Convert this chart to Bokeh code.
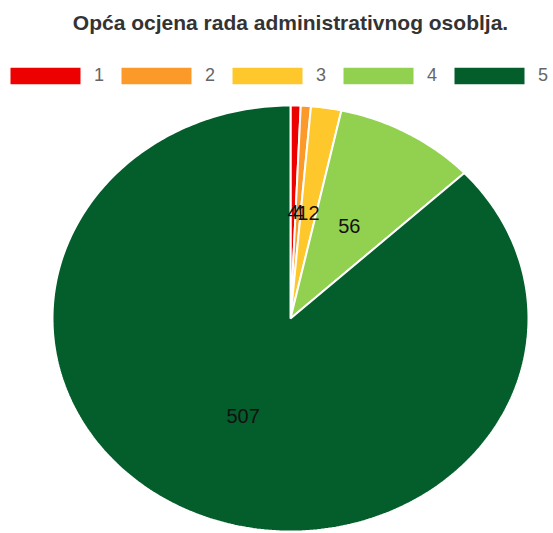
import numpy as np
from bokeh.plotting import figure
from bokeh.models import ColumnDataSource, Legend, LegendItem, Label
from bokeh.core.properties import value
from bokeh.embed import file_html
from bokeh.resources import INLINE

title_text = "Opća ocjena rada administrativnog osoblja."
categories = ["1", "2", "3", "4", "5"]
counts = [4, 4, 12, 56, 507]
colors = ["#ec0000", "#fb9a29", "#fec82c", "#92d050", "#035e2b"]

total = float(sum(counts))
cum = np.concatenate([[0.0], np.cumsum(counts)]) / total

xs, ys, lx, ly = [], [], [], []
for i in range(len(counts)):
    a0, a1 = cum[i], cum[i + 1]
    n = max(4, int((a1 - a0) * 400))
    t = np.pi / 2 - 2 * np.pi * np.linspace(a0, a1, n)
    xs.append(np.concatenate([[0.0], np.cos(t)]).tolist())
    ys.append(np.concatenate([[0.0], np.sin(t)]).tolist())
    tm = np.pi / 2 - 2 * np.pi * (a0 + a1) / 2
    lx.append(0.5 * np.cos(tm))
    ly.append(0.5 * np.sin(tm))

src = ColumnDataSource(dict(xs=xs, ys=ys, color=colors, cat=categories))
lab = ColumnDataSource(dict(x=lx, y=ly, text=[str(c) for c in counts]))

W, H = 553, 533
RX, RY = 238, 213
CX, CY = 290, 318  # pie centre in frame pixels (from top-left)

p = figure(width=W, height=H, toolbar_location=None, output_backend="svg",
           x_range=(-CX / RX, (W - CX) / RX), y_range=(-(H - CY) / RY, CY / RY),
           x_axis_type=None, y_axis_type=None, min_border=0, title=None)
p.grid.visible = False
p.outline_line_color = None

r = p.patches("xs", "ys", source=src, fill_color="color", line_color="white", line_width=2)
p.text("x", "y", text="text", source=lab, text_align="center", text_baseline="middle",
       text_font=value("Liberation Sans"), text_font_size="20px", text_color="#111111")

p.add_layout(Label(x=290, y=H - 22, x_units="screen", y_units="screen", text=title_text,
                   text_align="center", text_baseline="middle", text_font="Liberation Sans",
                   text_font_size="21px", text_font_style="bold", text_color="#333333"))

items = [LegendItem(label=c, renderers=[r], index=i) for i, c in enumerate(categories)]
legend = Legend(items=items, orientation="horizontal", location=(0, H - 87),
                glyph_width=90, glyph_height=23, label_height=23, label_width=10,
                label_standoff=4, spacing=7, padding=0, margin=0,
                border_line_color=None, background_fill_alpha=0,
                label_text_font="Liberation Sans", label_text_font_size="18px",
                label_text_color="#666666", label_text_baseline="middle")
p.add_layout(legend)

open("out.html", "w").write(file_html(p, INLINE))
